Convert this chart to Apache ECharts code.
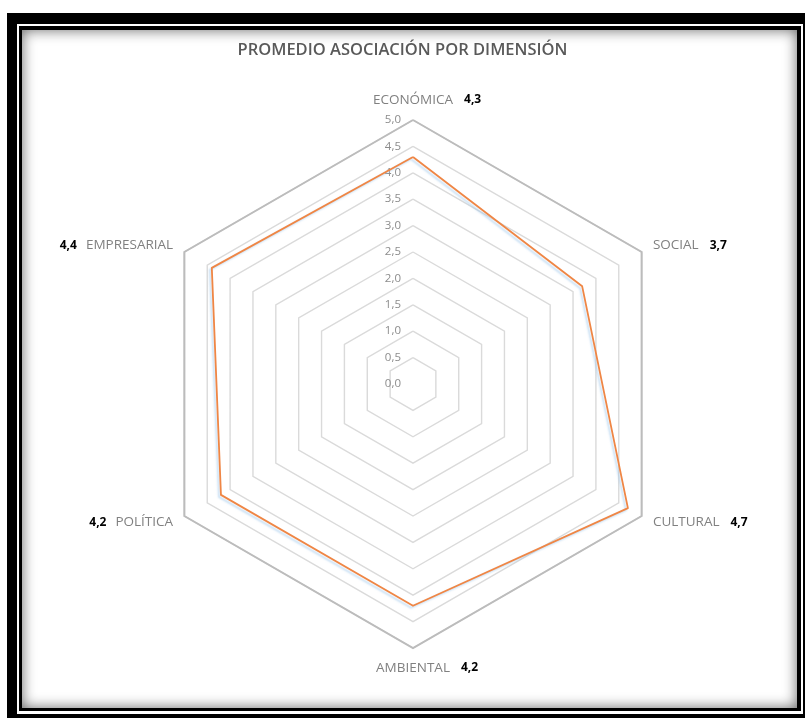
<!DOCTYPE html>
<html>
<head>
<meta charset="utf-8">
<title>Promedio asociación por dimensión</title>
<script src="https://cdn.jsdelivr.net/npm/echarts@6/dist/echarts.min.js"></script>
<style>
    html, body { margin: 0; padding: 0; width: 805px; height: 718px; overflow: hidden; background: #fff; }
    .frame-outer { position: absolute; left: 7px; top: 13px; width: 830px; height: 740px; background: #000; }
    .frame-gap { position: absolute; left: 17px; top: 24px; width: 786px; height: 690px; background: #fff; }
    .frame-inner { position: absolute; left: 19px; top: 26px; width: 775px; height: 678px; border-style: solid; border-color: #000;
        border-width: 4px 4px 3px 3px; background: #fff; box-shadow: inset 0 0 14px rgba(0, 0, 0, 0.6); }
    #main { position: absolute; left: 0; top: 0; width: 805px; height: 718px; }
</style>
</head>
<body>
<div class="frame-outer"></div>
<div class="frame-gap"></div>
<div class="frame-inner"></div>
<div id="main"></div>
<script>
// datos del gráfico (orden de Excel, en sentido horario desde arriba)
var categories = ['ECONÓMICA', 'SOCIAL', 'CULTURAL', 'AMBIENTAL', 'POLÍTICA', 'EMPRESARIAL'];
var promedios = [4.3, 3.7, 4.7, 4.2, 4.2, 4.4];
var escalaMin = 0;
var escalaMax = 5;
var divisiones = 10;

function fmt(v) {
    return v.toFixed(1).replace('.', ',');
}

// echarts recorre los ejes en sentido antihorario, asi que se invierte el orden
var orden = [0, 5, 4, 3, 2, 1];
var lado = ['centro', 'der', 'der', 'centro', 'izq', 'izq'];

var indicadores = [];
var valores = [];
for (var i = 0; i < orden.length; i++) {
    var k = orden[i];
    var ind = { name: categories[k], min: escalaMin, max: escalaMax };
    if (i === 0) {
        ind.axisLabel = {
            show: true,
            color: '#8c8c8c',
            fontSize: 11.5,
            fontFamily: 'Open Sans',
            margin: 12,
            formatter: function (v) { return fmt(Number(v)); }
        };
    }
    indicadores.push(ind);
    valores.push(promedios[k]);
}

function nombreEje(name) {
    var k = categories.indexOf(name);
    var v = fmt(promedios[k]);
    if (lado[k] === 'izq') {
        return '{v|' + v + '}{n|' + name + '}';
    }
    if (lado[k] === 'der') {
        return '{n|' + name + '}{vd|' + v + '}';
    }
    return '{p|' + v + '}{n|' + name + '}{vd|' + v + '}';
}

var myChart = echarts.init(document.getElementById('main'), null, { renderer: 'canvas' });

var option = {
    backgroundColor: 'transparent',
    animation: false,
    title: {
        text: 'PROMEDIO ASOCIACIÓN POR DIMENSIÓN',
        left: 'center',
        top: 37,
        textStyle: {
            color: '#595959',
            fontSize: 16.5,
            fontWeight: 600,
            fontFamily: 'Open Sans'
        }
    },
    radar: [{
        center: [413, 384],
        radius: 264,
        startAngle: 90,
        shape: 'polygon',
        splitNumber: divisiones,
        indicator: indicadores,
        nameGap: 13,
        axisName: {
            formatter: nombreEje,
            rich: {
                n: { color: '#808080', fontSize: 13.5, fontFamily: 'Open Sans' },
                v: { color: '#000', fontSize: 12, fontWeight: 'bold', fontFamily: 'Open Sans', padding: [0, 9, 0, 0] },
                vd: { color: '#000', fontSize: 12, fontWeight: 'bold', fontFamily: 'Open Sans', padding: [0, 0, 0, 11] },
                p: { color: 'transparent', fontSize: 12, fontWeight: 'bold', fontFamily: 'Open Sans', padding: [0, 11, 0, 0] }
            }
        },
        axisLine: { show: false },
        axisTick: { show: false },
        axisLabel: { show: false },
        splitArea: { show: false },
        splitLine: { lineStyle: { color: '#dadada', width: 1.4 } }
    }, {
        // borde exterior mas oscuro
        center: [413, 384],
        radius: 264,
        startAngle: 90,
        shape: 'polygon',
        splitNumber: 1,
        indicator: indicadores.map(function (d) { return { name: '', min: escalaMin, max: escalaMax }; }),
        axisName: { show: false },
        axisLine: { show: false },
        axisTick: { show: false },
        axisLabel: { show: false },
        splitArea: { show: false },
        splitLine: { lineStyle: { color: '#bcbcbc', width: 2 } }
    }],
    series: [{
        name: 'Promedio',
        type: 'radar',
        radarIndex: 0,
        symbol: 'none',
        lineStyle: {
            color: '#EF8645',
            width: 1.8,
            shadowColor: 'rgba(160, 200, 235, 0.6)',
            shadowBlur: 2,
            shadowOffsetX: -2,
            shadowOffsetY: 2
        },
        data: [{ value: valores, name: 'Promedio' }]
    }]
};

myChart.setOption(option);
</script>
</body>
</html>
